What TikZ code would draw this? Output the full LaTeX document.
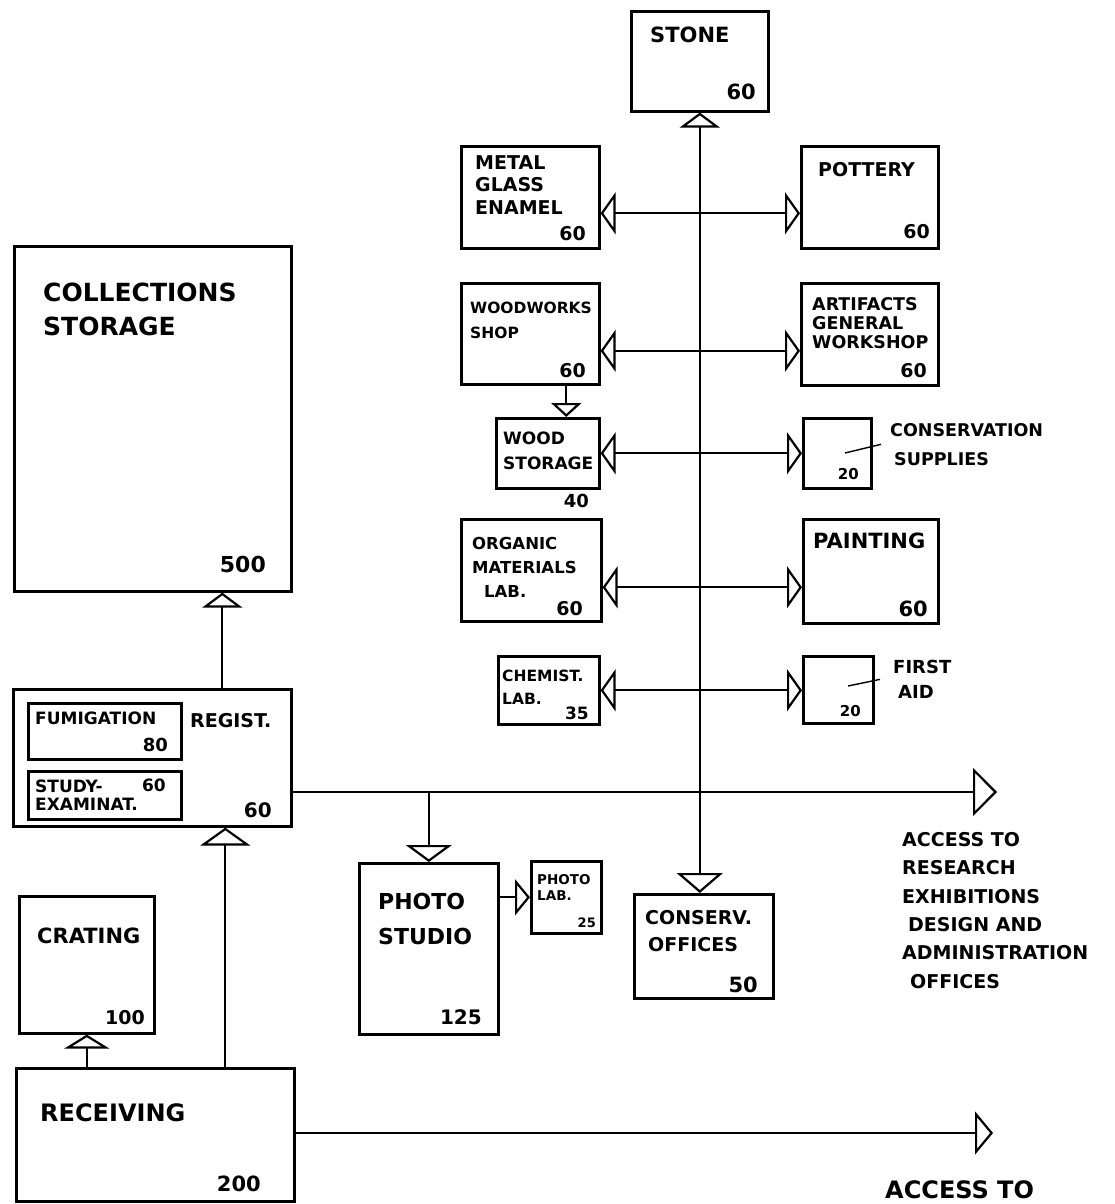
\documentclass[tikz,border=0pt]{standalone}
\usepackage{fontspec}
\setmainfont{DejaVu Sans}
\usetikzlibrary{arrows.meta,positioning}

\newcommand\sketchfont[2]{\fontsize{#1}{#2}\selectfont\bfseries}

\tikzset{
  room/.style={draw,line width=2.6pt,inner sep=0pt,anchor=north west},
  ttl/.style={inner sep=0pt,anchor=north west,align=left},
  area/.style={inner sep=0pt,anchor=south east},
  link/.style={line width=1.8pt},
  lead/.style={line width=1.4pt},
  two way/.style={link,{Triangle[open,length=15pt,width=42pt,line width=2.2pt]}-{Triangle[open,length=15pt,width=42pt,line width=2.2pt]}},
}

\begin{document}
\begin{tikzpicture}[x=1pt,y=-1pt]
\useasboundingbox (0,0) rectangle (1115,1204);

% conservation wing
\node[room,minimum width=137pt,minimum height=100pt] (stone) at (630,10) {};
\node[room,minimum width=138pt,minimum height=102pt] (metal) at (460,145) {};
\node[room,minimum width=137pt,minimum height=102pt] (pottery) at (800,145) {};
\node[room,minimum width=138pt,minimum height=101pt] (wood) at (460,282) {};
\node[room,minimum width=137pt,minimum height=102pt] (artif) at (800,282) {};
\node[room,minimum width=103pt,minimum height=70pt] (woodst) at (495,417) {};
\node[room,minimum width=68pt,minimum height=70pt] (supply) at (802,417) {};
\node[room,minimum width=140pt,minimum height=102pt] (organic) at (460,518) {};
\node[room,minimum width=135pt,minimum height=104pt] (paint) at (802,518) {};
\node[room,minimum width=101pt,minimum height=68pt] (chem) at (497,655) {};
\node[room,minimum width=70pt,minimum height=67pt] (aid) at (802,655) {};
\node[room,minimum width=139pt,minimum height=104pt] (conserv) at (633,893) {};

% collections side
\node[room,minimum width=277pt,minimum height=345pt] (store) at (13,245) {};
\node[room,minimum width=278pt,minimum height=137pt] (regist) at (12,688) {};
\node[room,minimum width=153pt,minimum height=56pt] (fumig) at (27,702) {};
\node[room,minimum width=153pt,minimum height=48pt] (study) at (27,770) {};
\node[room,minimum width=135pt,minimum height=137pt] (crating) at (18,895) {};
\node[room,minimum width=278pt,minimum height=133pt] (recv) at (15,1067) {};
\node[room,minimum width=139pt,minimum height=171pt] (photo) at (358,862) {};
\node[room,minimum width=70pt,minimum height=72pt] (plab) at (530,860) {};

% names and areas
\node[ttl,font=\sketchfont{21}{26}] (stone-t) at (650,27) {STONE};
\node[area,font=\sketchfont{21}{26}] (stone-a) at (756,100) {60};
\node[ttl,font=\sketchfont{19}{22.5}] (metal-t) at (475,155) {METAL\\GLASS\\ENAMEL};
\node[area,font=\sketchfont{19}{23}] (metal-a) at (586,241) {60};
\node[ttl,font=\sketchfont{19}{23}] (pottery-t) at (818,162) {POTTERY};
\node[area,font=\sketchfont{19}{23}] (pottery-a) at (930,239) {60};
\node[ttl,font=\sketchfont{15.5}{25}] (wood-t) at (470,302) {WOODWORKS\\SHOP};
\node[area,font=\sketchfont{19}{23}] (wood-a) at (586,378) {60};
\node[ttl,font=\sketchfont{17.5}{19}] (artif-t) at (812,297) {ARTIFACTS\\GENERAL\\WORKSHOP};
\node[area,font=\sketchfont{19}{23}] (artif-a) at (927,378) {60};
\node[ttl,font=\sketchfont{17}{25}] (woodst-t) at (503,432) {WOOD\\STORAGE};
\node[area,font=\sketchfont{18}{22}] (woodst-a) at (589,508) {40};
\node[area,font=\sketchfont{15}{18}] (supply-a) at (859,480) {20};
\node[ttl,font=\sketchfont{17.5}{29}] (supply-t) at (890,423) {CONSERVATION\\\hspace*{4pt}SUPPLIES};
\node[ttl,font=\sketchfont{16.5}{24}] (organic-t) at (472,537) {ORGANIC\\MATERIALS\\\hspace*{12pt}LAB.};
\node[area,font=\sketchfont{19}{23}] (organic-a) at (583,616) {60};
\node[ttl,font=\sketchfont{21}{25}] (paint-t) at (813,533) {PAINTING};
\node[area,font=\sketchfont{21}{25}] (paint-a) at (928,617) {60};
\node[ttl,font=\sketchfont{15.5}{23}] (chem-t) at (502,670) {CHEMIST.\\LAB.};
\node[area,font=\sketchfont{17}{20}] (chem-a) at (589,720) {35};
\node[area,font=\sketchfont{15}{18}] (aid-a) at (861,717) {20};
\node[ttl,font=\sketchfont{18}{25}] (aid-t) at (893,660) {FIRST\\\hspace*{5pt}AID};
\node[ttl,font=\sketchfont{19}{27}] (conserv-t) at (645,910) {CONSERV.\\\hspace*{3pt}OFFICES};
\node[area,font=\sketchfont{21}{25}] (conserv-a) at (758,993) {50};

\node[ttl,font=\sketchfont{25}{34}] (store-t) at (43,283) {COLLECTIONS\\STORAGE};
\node[area,font=\sketchfont{22}{26}] (store-a) at (266,573) {500};
\node[ttl,font=\sketchfont{17}{21}] (fumig-t) at (35,712) {FUMIGATION};
\node[area,font=\sketchfont{18}{22}] (fumig-a) at (168,752) {80};
\node[ttl,font=\sketchfont{19}{23}] (regist-t) at (190,713) {REGIST.};
\node[area,font=\sketchfont{20}{24}] (regist-a) at (272,818) {60};
\node[ttl,font=\sketchfont{17}{18}] (study-t) at (35,780) {STUDY-\\EXAMINAT.};
\node[area,font=\sketchfont{17}{20}] (study-a) at (166,792) {60};
\node[ttl,font=\sketchfont{21}{25}] (crating-t) at (37,928) {CRATING};
\node[area,font=\sketchfont{19}{23}] (crating-a) at (145,1025) {100};
\node[ttl,font=\sketchfont{24}{28}] (recv-t) at (40,1103) {RECEIVING};
\node[area,font=\sketchfont{21}{25}] (recv-a) at (261,1192) {200};
\node[ttl,font=\sketchfont{22}{35}] (photo-t) at (378,893) {PHOTO\\STUDIO};
\node[area,font=\sketchfont{20}{24}] (photo-a) at (482,1025) {125};
\node[ttl,font=\sketchfont{13.5}{16}] (plab-t) at (537,874) {PHOTO\\LAB.};
\node[area,font=\sketchfont{13}{14}] (plab-a) at (596,928) {25};

\node[ttl,font=\sketchfont{19}{28.4}] (acc1-t) at (902,832) {ACCESS TO\\RESEARCH\\EXHIBITIONS\\\hspace*{6pt}DESIGN AND\\ADMINISTRATION\\\hspace*{8pt}OFFICES};
\node[ttl,font=\sketchfont{24}{28}] (acc2-t) at (885,1180) {ACCESS TO};

% free ends
\coordinate (acc1) at (997,792);
\coordinate (acc2) at (993,1133);
\coordinate (supl) at (845,453);
\coordinate (aidl) at (848,686);

% spine of the conservation wing
\draw[link,{Triangle[open,length=15pt,width=40pt,line width=2.2pt]}-{Triangle[open,length=20pt,width=46pt,line width=2.2pt]}]
  (stone.south) -- (stone.south |- conserv.north);
\draw[two way] ([yshift=-16pt]metal.east) -- ([yshift=-16pt]metal.east -| pottery.west);
\draw[two way] ([yshift=-17pt]wood.east) -- ([yshift=-17pt]wood.east -| artif.west);
\draw[two way] (woodst.east) -- (woodst.east -| supply.west);
\draw[two way] ([yshift=-17pt]organic.east) -- ([yshift=-17pt]organic.east -| paint.west);
\draw[two way] (chem.east) -- (chem.east -| aid.west);
\draw[link,-{Triangle[open,length=14pt,width=30pt,line width=2.2pt]}]
  ([xshift=18.5pt]woodst.north |- wood.south) -- ([xshift=18.5pt]woodst.north);
\draw[lead] (supl) -- ([xshift=-9pt]supply-t.west);
\draw[lead] (aidl) -- ([xshift=-13pt]aid-t.west);

% collections flow
\draw[link,-{Triangle[open,length=15pt,width=40pt,line width=2.2pt]}]
  ([xshift=70pt]regist.north) -- ([xshift=70pt]regist.north |- store.south);
\draw[link,-{Triangle[open,length=18pt,width=50pt,line width=2.2pt]}]
  ([xshift=70pt]recv.north) -- ([xshift=70pt]recv.north |- regist.south);
\draw[link,-{Triangle[open,length=14pt,width=45pt,line width=2.2pt]}]
  (crating.south |- recv.north) -- (crating.south);
\draw[link,-{Triangle[open,length=24pt,width=48pt,line width=2.2pt]}]
  (regist.east |- acc1) -- (acc1);
\draw[link,-{Triangle[open,length=17pt,width=46pt,line width=2.2pt]}]
  (photo.north |- acc1) -- (photo.north);
\draw[link,-{Triangle[open,length=15pt,width=36pt,line width=2.2pt]}]
  (photo.east |- plab.west) -- (plab.west);
\draw[link,-{Triangle[open,length=18pt,width=43pt,line width=2.2pt]}]
  (recv.east |- acc2) -- (acc2);
\end{tikzpicture}
\end{document}
